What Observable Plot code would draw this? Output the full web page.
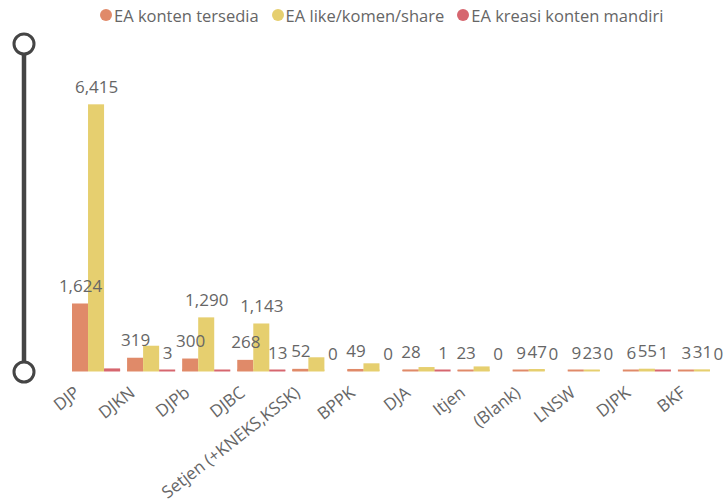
<!DOCTYPE html>
<html>
<head>
<meta charset="utf-8">
<script src="https://cdn.jsdelivr.net/npm/d3@7"></script>
<script src="https://cdn.jsdelivr.net/npm/@observablehq/plot@0.6"></script>
<style>
  html, body { margin: 0; padding: 0; background: #fff; overflow: hidden; }
  body { width: 725px; height: 504px; position: relative; font-family: "Open Sans", "Segoe UI", sans-serif; }
  #legend { position: absolute; left: 100px; top: 2px; height: 26px; display: flex; align-items: center; font-size: 16.5px; color: #666; white-space: nowrap; }
  #legend .item { display: flex; align-items: center; margin-right: 13px; }
  #legend .dot { width: 12px; height: 12px; border-radius: 50%; margin-right: 2px; }
  #chart { position: absolute; left: 0; top: 30px; width: 725px; height: 474px; overflow: hidden; }
  #chart svg { max-width: none !important; }
  #slider { position: absolute; left: 0; top: 0; }
</style>
</head>
<body>
<div id="legend"></div>
<div id="chart"></div>
<svg id="slider" width="50" height="400">
  <line x1="24" x2="24" y1="54" y2="362" stroke="#454545" stroke-width="4.5"/>
  <circle cx="24" cy="44" r="10" fill="#fff" stroke="#454545" stroke-width="3"/>
  <circle cx="24" cy="372" r="10" fill="#fff" stroke="#454545" stroke-width="3"/>
</svg>
<script>
const categories = ["DJP", "DJKN", "DJPb", "DJBC", "Setjen (+KNEKS,KSSK)", "BPPK", "DJA", "Itjen", "(Blank)", "LNSW", "DJPK", "BKF"];
const seriesNames = ["EA konten tersedia", "EA like/komen/share", "EA kreasi konten mandiri"];
const seriesColors = ["#E08A69", "#E6CF6F", "#D6666F"];
const kontenTersedia = [1624, 319, 300, 268, 52, 49, 28, 23, 9, 9, 6, 3];
const likeKomenShare = [6415, 608, 1290, 1143, 330, 185, 95, 110, 47, 23, 55, 31];
const kreasiMandiri = [62, 3, 8, 13, 0, 0, 1, 0, 0, 0, 1, 0];
// data labels not displayed in the original (overlapping labels hidden)
const hiddenLabels = [
  ["DJP", "EA kreasi konten mandiri"],
  ["DJKN", "EA like/komen/share"],
  ["DJPb", "EA kreasi konten mandiri"],
  ["Setjen (+KNEKS,KSSK)", "EA like/komen/share"],
  ["BPPK", "EA like/komen/share"],
  ["DJA", "EA like/komen/share"],
  ["Itjen", "EA like/komen/share"]
];

const seriesValues = [kontenTersedia, likeKomenShare, kreasiMandiri];
const data = [];
categories.forEach((c, i) => {
  seriesNames.forEach((s, j) => {
    data.push({category: c, series: s, value: seriesValues[j][i]});
  });
});
const hidden = new Set(hiddenLabels.map(([c, s]) => c + "|" + s));
const labelled = data.filter(d => !hidden.has(d.category + "|" + d.series));

// legend
const legend = document.getElementById("legend");
seriesNames.forEach((s, j) => {
  const item = document.createElement("div");
  item.className = "item";
  const dot = document.createElement("span");
  dot.className = "dot";
  dot.style.background = seriesColors[j];
  const txt = document.createElement("span");
  txt.textContent = s;
  item.appendChild(dot);
  item.appendChild(txt);
  legend.appendChild(item);
});

const fmt = d3.format(",");
const chart = Plot.plot({
  width: 730,
  height: 474,
  marginLeft: 68.5,
  marginRight: 0.5,
  marginTop: 50,
  marginBottom: 133,
  style: {fontFamily: "'Open Sans', 'Segoe UI', sans-serif", background: "transparent", maxWidth: "none"},
  fx: {domain: categories, paddingInner: 0.127, paddingOuter: 0.0636, round: false, label: null},
  x: {domain: seriesNames, padding: 0, round: false, axis: null},
  y: {domain: [0, 7000], axis: null},
  color: {domain: seriesNames, range: seriesColors},
  marks: [
    Plot.barY(data, {fx: "category", x: "series", y: "value", fill: "series"}),
    Plot.tickY(data.filter(d => d.value > 0), {fx: "category", x: "series", y: d => 0, stroke: "series", strokeWidth: 2, dy: -1}),
    Plot.text(labelled, {fx: "category", x: "series", y: "value", text: d => fmt(d.value), dy: -12, lineAnchor: "bottom", fill: "#666", fontSize: 17}),
    Plot.axisFx({anchor: "bottom", tickSize: 0, tickRotate: -38, tickPadding: 6, dx: -19, dy: 13, fontSize: 17, color: "#666", label: null})
  ]
});
document.getElementById("chart").appendChild(chart);
</script>
</body>
</html>
